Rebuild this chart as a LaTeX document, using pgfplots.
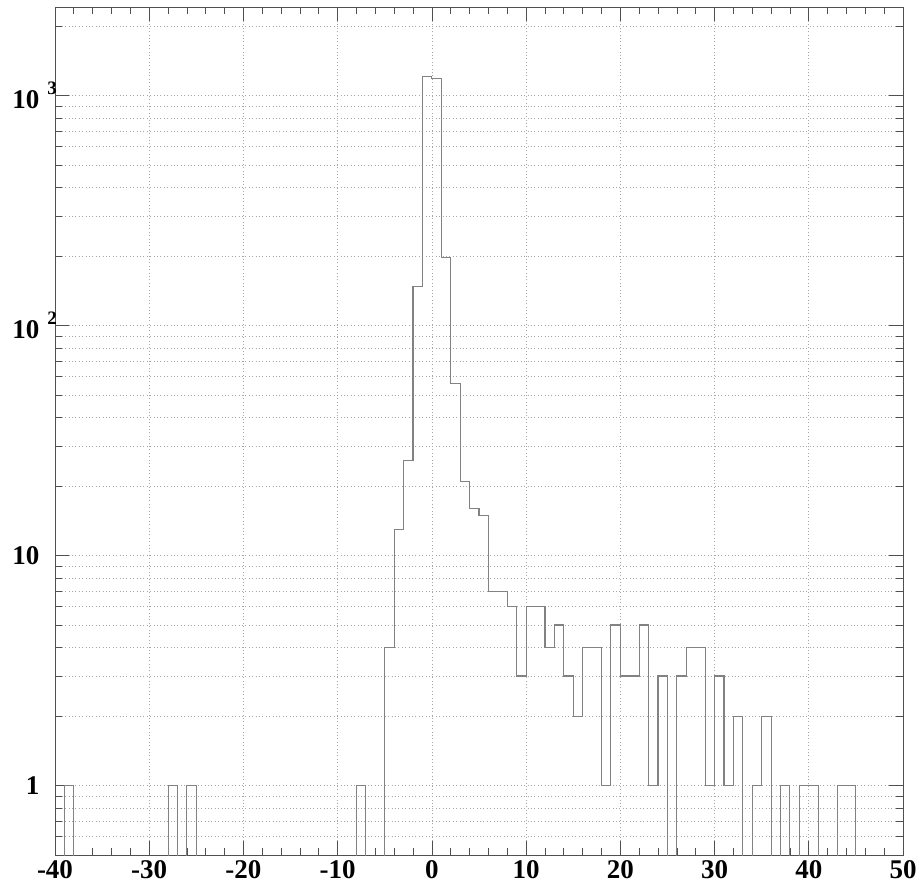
\documentclass[border=0pt]{standalone}
\usepackage{fontspec}
\setmainfont{Liberation Serif}
\usepackage{pgfplots}
\pgfplotsset{compat=1.18}
\definecolor{histline}{RGB}{130,130,130}
\definecolor{frame}{RGB}{80,80,80}
\newcommand{\expo}[1]{\rlap{\hspace{8pt}\raisebox{14pt}{\fontsize{19}{19}\selectfont #1}}}
\begin{document}
\begin{tikzpicture}
\useasboundingbox (0pt,0pt) rectangle (917pt,888pt);
\begin{axis}[
  at={(55pt,33pt)}, anchor=south west,
  scale only axis, width=848pt, height=848pt,
  xmin=-40, xmax=50,
  ymode=log, ymin=0.5, ymax=2434,
  xtick={-40,-30,-20,-10,0,10,20,30,40,50},
  xticklabels={-40,-30,-20,-10,0,10,20,30,40,50},
  minor x tick num=4,
  ytick={1,10,100,1000},
  yticklabels={1,10,{10\expo{2}},{10\expo{3}}},
  minor ytick={0.6,0.7,0.8,0.9,2,3,4,5,6,7,8,9,20,30,40,50,60,70,80,90,200,300,400,500,600,700,800,900,2000},
  xmajorgrids, ymajorgrids, yminorgrids,
  grid style={gray!70, line width=0.7pt, dash pattern=on 1pt off 2.4pt},
  major tick length=14pt, minor tick length=7pt,
  tick style={frame, line width=0.7pt},
  axis line style={frame, line width=0.9pt},
  ticklabel style={font=\fontsize{27}{27}\selectfont\bfseries},
  xticklabel style={yshift=-2pt},
  yticklabel style={xshift=-12pt},
  /pgf/number format/assume math mode=true,
]
\addplot[const plot, line width=1.1pt, color=histline] coordinates {
(-40,0.05) (-39,1) (-38,0.05) (-28,1) (-27,0.05) (-26,1) (-25,0.05)
(-8,1) (-7,0.05) (-5,4) (-4,13) (-3,26) (-2,148) (-1,1215) (0,1190)
(1,199) (2,56) (3,21) (4,16) (5,15) (6,7) (7,7) (8,6) (9,3) (10,6) (11,6)
(12,4) (13,5) (14,3) (15,2) (16,4) (17,4) (18,1) (19,5) (20,3) (21,3)
(22,5) (23,1) (24,3) (25,0.05) (26,3) (27,4) (28,4) (29,1) (30,3) (31,1)
(32,2) (33,0.05) (34,1) (35,2) (36,0.05) (37,1) (38,0.05) (39,1) (40,1)
(41,0.05) (42,0.05) (43,1) (44,1) (45,0.05) (50,0.05)
};
\end{axis}
\end{tikzpicture}
\end{document}
